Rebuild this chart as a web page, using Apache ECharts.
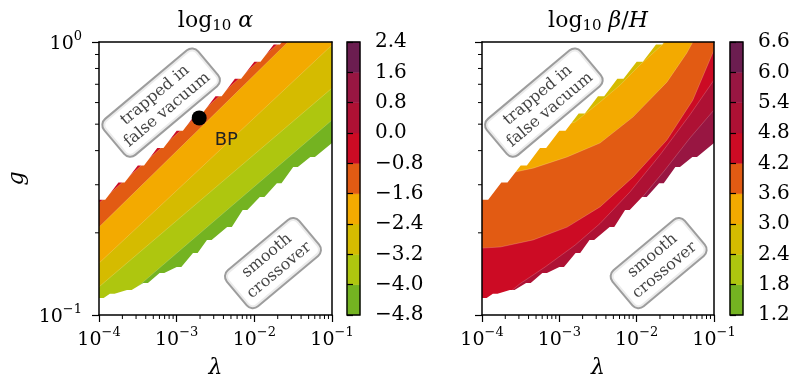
<!DOCTYPE html>
<html>
<head>
<meta charset="utf-8">
<script src="https://cdn.jsdelivr.net/npm/echarts@6/dist/echarts.min.js"></script>
<style>
  html, body { margin: 0; padding: 0; background: #ffffff; }
  #main { width: 795px; height: 381px; }
</style>
</head>
<body>
<div id="main"></div>
<script>
// Both panels are drawn in log10 space: x = log10(lambda), y = log10(g)
const lamExponents = [-4, -3, -2, -1];
const gExponents = [-1, 0];

// contour levels of the two colour bars
const levelsAlpha = [-4.8, -4.0, -3.2, -2.4, -1.6, -0.8, 0.0, 0.8, 1.6, 2.4];
const levelsBetaH = [1.2, 1.8, 2.4, 3.0, 3.6, 4.2, 4.8, 5.4, 6.0, 6.6];
const levelColors = ['#74b321', '#aec60f', '#d5bb00', '#f3aa00', '#e25b13',
                     '#cc0b24', '#ae1134', '#981642', '#6b1d50'];

// edges of the parameter region with a completed transition, [log10 lambda, log10 g]
const edgeUpper = [
  [-4.00, -0.578], [-3.92, -0.578], [-3.75, -0.515], [-3.67, -0.515],
  [-3.50, -0.452], [-3.42, -0.452], [-3.25, -0.388], [-3.17, -0.388],
  [-3.00, -0.325], [-2.92, -0.325], [-2.75, -0.262], [-2.67, -0.262],
  [-2.50, -0.199], [-2.42, -0.199], [-2.25, -0.135], [-2.17, -0.135],
  [-2.00, -0.072], [-1.92, -0.072], [-1.75, -0.009], [-1.67, -0.009],
  [-1.50, 0.054]
];
const edgeLower = [
  [-4.00, -0.938], [-3.94, -0.938], [-3.86, -0.922], [-3.80, -0.922],
  [-3.64, -0.908], [-3.58, -0.908], [-3.43, -0.883], [-3.37, -0.883],
  [-3.22, -0.846], [-3.16, -0.846], [-3.00, -0.824], [-2.94, -0.824],
  [-2.79, -0.773], [-2.73, -0.773], [-2.61, -0.725], [-2.55, -0.725],
  [-2.35, -0.678], [-2.29, -0.678], [-2.15, -0.615], [-2.09, -0.615],
  [-1.93, -0.568], [-1.87, -0.568], [-1.71, -0.517], [-1.65, -0.517],
  [-1.50, -0.458], [-1.44, -0.458], [-1.28, -0.421], [-1.22, -0.421],
  [-1.00, -0.370]
];

// contour lines of log10 alpha (value grows towards the upper left)
const alphaLevelM40 = [[-4.00, -1.018], [-3.28, -0.842], [-2.83, -0.732], [-1.00, -0.286]];
const alphaLevelM32 = [[-4.00, -0.897], [-2.50, -0.533], [-1.00, -0.169]];
const alphaLevelM24 = [[-4.00, -0.810], [-2.71, -0.467], [-1.00, -0.011]];
const alphaLevelM16 = [[-4.00, -0.678], [-2.71, -0.319], [-1.567, 0.000], [-1.40, 0.046]];
const alphaLevelM08 = [[-4.00, -0.590], [-2.50, -0.211], [-1.67, 0.000], [-1.50, 0.043]];

// contour lines of log10 beta/H (value grows towards the lower right)
const betaLevel30 = [[-3.183, -0.322], [-2.796, -0.293], [-2.474, -0.220], [-2.215, -0.158],
                     [-1.957, -0.084], [-1.700, -0.018], [-1.544, 0.022]];
const betaLevel36 = [[-4.000, -0.520], [-3.893, -0.524], [-3.570, -0.476], [-3.338, -0.462],
                     [-2.899, -0.421], [-2.474, -0.370], [-2.048, -0.275], [-1.609, -0.147],
                     [-1.351, -0.040], [-1.274, 0.000]];
const betaLevel42 = [[-4.000, -0.755], [-3.764, -0.751], [-3.338, -0.725], [-2.899, -0.678],
                     [-2.474, -0.604], [-2.048, -0.495], [-1.609, -0.359], [-1.274, -0.213],
                     [-1.000, -0.029]];
const betaLevel48 = [[-4.000, -1.000], [-3.700, -0.930], [-3.506, -0.885], [-3.183, -0.824],
                     [-2.796, -0.744], [-2.474, -0.665], [-2.086, -0.549], [-1.699, -0.414],
                     [-1.312, -0.267], [-1.000, -0.139]];
const betaLevel54 = [[-4.000, -1.200], [-2.474, -0.744], [-2.280, -0.681], [-1.957, -0.579],
                     [-1.635, -0.469], [-1.312, -0.352], [-1.000, -0.249]];

// benchmark point and region notes, [log10 lambda, log10 g]
const benchmarkPoint = [-2.71, -0.278];
const noteTrappedAt = [-3.20, -0.222];
const noteSmoothAlphaAt = [-1.76, -0.810];
const noteSmoothBetaAt = [-1.716, -0.810];

// ---------------------------------------------------------------
const X0 = lamExponents[0], X1 = lamExponents[lamExponents.length - 1];
const Y0 = gExponents[0], Y1 = gExponents[gExponents.length - 1];

const SERIF = 'DejaVu Serif';
const PLOT_TOP = 42, PLOT_H = 273;
const LEFT_PLOT = { left: 99, width: 233 };
const RIGHT_PLOT = { left: 482, width: 232 };
const LEFT_BAR = { left: 347, width: 13 };
const RIGHT_BAR = { left: 730, width: 13 };

// closed region on one side of a contour line, spanning the full lambda range
function region(line, far) {
  const first = line[0], last = line[line.length - 1];
  return [[X0, first[1]]].concat(line, [[X1, last[1]], [X1, far], [X0, far]]);
}

function contourRenderer(baseIndex, lines, firstIndex, far) {
  return function (params, api) {
    const px = p => api.coord(p);
    const kids = [];
    kids.push({ type: 'polygon', shape: { points: [[X0, Y0], [X1, Y0], [X1, Y1], [X0, Y1]].map(px) },
                style: { fill: levelColors[baseIndex] } });
    lines.forEach((line, i) => {
      kids.push({ type: 'polygon', shape: { points: region(line, far).map(px) },
                  style: { fill: levelColors[firstIndex + i] } });
    });
    lines.forEach(line => {
      kids.push({ type: 'polyline', shape: { points: line.map(px) },
                  style: { stroke: 'rgba(255,255,255,0.28)', lineWidth: 0.7, fill: null } });
    });
    kids.push({ type: 'polygon', shape: { points: region(edgeUpper, 1).map(px) }, style: { fill: '#ffffff' } });
    kids.push({ type: 'polygon', shape: { points: region(edgeLower, -2).map(px) }, style: { fill: '#ffffff' } });
    return { type: 'group', children: kids };
  };
}

// minor ticks of the logarithmic axes
const minorFactors = [2, 3, 4, 5, 6, 7, 8, 9];
function minorTickRenderer(params, api) {
  const kids = [];
  const tick = (x1, y1, x2, y2) => kids.push({ type: 'line', shape: { x1, y1, x2, y2 },
                                               style: { stroke: '#000', lineWidth: 1 } });
  for (let e = X0; e < X1; e++) {
    minorFactors.forEach(k => {
      const p = api.coord([e + Math.log10(k), Y0]);
      tick(p[0], p[1], p[0], p[1] + 4);
    });
  }
  for (let e = Y0; e < Y1; e++) {
    minorFactors.forEach(k => {
      const p = api.coord([X0, e + Math.log10(k)]);
      tick(p[0], p[1], p[0] - 4, p[1]);
    });
  }
  return { type: 'group', children: kids };
}

function colorbarRenderer(levels) {
  return function (params, api) {
    const kids = [];
    for (let i = 0; i < levels.length - 1; i++) {
      const a = api.coord([0, levels[i]]), b = api.coord([1, levels[i + 1]]);
      kids.push({ type: 'rect', shape: { x: a[0], y: b[1], width: b[0] - a[0], height: a[1] - b[1] },
                  style: { fill: levelColors[i], stroke: levelColors[i], lineWidth: 0.5 } });
    }
    const lo = api.coord([0, levels[0]]), hi = api.coord([1, levels[levels.length - 1]]);
    kids.push({ type: 'rect', shape: { x: lo[0], y: hi[1], width: hi[0] - lo[0], height: lo[1] - hi[1] },
                style: { fill: 'none', stroke: '#000', lineWidth: 1.4 } });
    return { type: 'group', children: kids };
  };
}

const minus = '\u2212';
const powLabel = v => {
  const e = Math.round(v);
  return '{b|10}{p|' + (e < 0 ? minus : '') + Math.abs(e) + '}';
};
const levelLabel = v => {
  const r = Math.round(v * 10) / 10;
  return (r < 0 ? minus : '') + Math.abs(r).toFixed(1);
};
const powRich = {
  b: { fontFamily: SERIF, fontSize: 19, lineHeight: 24, color: '#000', verticalAlign: 'bottom' },
  p: { fontFamily: SERIF, fontSize: 13, lineHeight: 14, color: '#000', verticalAlign: 'top' }
};
const axisLine = { show: true, onZero: false, lineStyle: { color: '#000', width: 1.5 } };

function mainX(grid) {
  return { type: 'value', gridIndex: grid, min: X0, max: X1, interval: 1, position: 'bottom', z: 10,
           axisLine, axisTick: { show: true, inside: false, length: 7, lineStyle: { color: '#000', width: 1.2 } },
           axisLabel: { show: true, formatter: powLabel, rich: powRich, margin: 11, showMinLabel: true, showMaxLabel: true },
           splitLine: { show: false } };
}
function mainY(grid, labels) {
  return { type: 'value', gridIndex: grid, min: Y0, max: Y1, interval: 1, position: 'left', z: 10,
           axisLine, axisTick: { show: true, inside: false, length: 7, lineStyle: { color: '#000', width: 1.2 } },
           axisLabel: { show: labels, formatter: powLabel, rich: powRich, margin: 17, showMinLabel: true, showMaxLabel: true },
           splitLine: { show: false } };
}
function spineX(grid) {
  return { type: 'value', gridIndex: grid, min: X0, max: X1, position: 'top', z: 10, axisLine,
           axisTick: { show: false }, axisLabel: { show: false }, splitLine: { show: false } };
}
function spineY(grid) {
  return { type: 'value', gridIndex: grid, min: Y0, max: Y1, position: 'right', z: 10, axisLine,
           axisTick: { show: false }, axisLabel: { show: false }, splitLine: { show: false } };
}
function barX(grid) {
  return { type: 'value', gridIndex: grid, min: 0, max: 1, show: false };
}
function barY(grid, levels) {
  const step = Math.round((levels[1] - levels[0]) * 10) / 10;
  return { type: 'value', gridIndex: grid, min: levels[0], max: levels[levels.length - 1], interval: step,
           position: 'right', z: 10, axisLine: { show: false },
           axisTick: { show: true, inside: false, length: 6, lineStyle: { color: '#000', width: 1.2 } },
           axisLabel: { show: true, formatter: levelLabel, margin: 15, fontFamily: SERIF, fontSize: 20, color: '#000',
                        showMinLabel: true, showMaxLabel: true },
           splitLine: { show: false } };
}

const noteLabel = {
  show: true, position: 'inside', rotate: 40,
  fontFamily: SERIF, fontSize: 16, lineHeight: 19, color: '#111111', align: 'center',
  backgroundColor: '#ffffff', borderColor: '#858585', borderWidth: 2, borderRadius: 7,
  padding: [4, 7, 3, 7]
};
function noteSeries(xi, items) {
  return { type: 'scatter', xAxisIndex: xi, yAxisIndex: xi, z: 20, silent: true, symbolSize: 1,
           itemStyle: { color: 'rgba(0,0,0,0)' }, label: noteLabel,
           data: items.map(it => ({ value: it[0], label: { formatter: it[1] } })) };
}

const titleRich = {
  a: { fontFamily: SERIF, fontSize: 22, lineHeight: 26, color: '#000' },
  s: { fontFamily: SERIF, fontSize: 15, lineHeight: 13, color: '#000', verticalAlign: 'bottom' },
  i: { fontFamily: SERIF, fontStyle: 'italic', fontSize: 22, lineHeight: 26, color: '#000' }
};
function panelTitle(cx, text) {
  return { text, left: cx, top: 8, textAlign: 'center', padding: 0, itemGap: 0,
           textStyle: { fontFamily: SERIF, fontSize: 22, fontWeight: 'normal', color: '#000', rich: titleRich } };
}
function axisName(cx, cy, text, rotation) {
  return { type: 'text', x: cx, y: cy, rotation: rotation || 0, z: 30,
           style: { text, fontFamily: SERIF, fontStyle: 'italic', fontSize: 22, fill: '#000',
                    align: 'center', textAlign: 'center', verticalAlign: 'middle', textVerticalAlign: 'middle' } };
}

const grids = [LEFT_PLOT, RIGHT_PLOT, LEFT_BAR, RIGHT_BAR].map(g => ({
  left: g.left, width: g.width, top: PLOT_TOP, height: PLOT_H, containLabel: false, show: false
}));

const chart = echarts.init(document.getElementById('main'), null, { renderer: 'canvas' });
chart.setOption({
  animation: false,
  backgroundColor: '#ffffff',
  title: [
    panelTitle(LEFT_PLOT.left + LEFT_PLOT.width / 2, '{a|log}{s|10}{a| }{i|\u03b1}'),
    panelTitle(RIGHT_PLOT.left + RIGHT_PLOT.width / 2, '{a|log}{s|10}{a| }{i|\u03b2}{a|/}{i|H}')
  ],
  grid: grids,
  xAxis: [mainX(0), mainX(1), barX(2), barX(3), spineX(0), spineX(1)],
  yAxis: [mainY(0, true), mainY(1, false), barY(2, levelsAlpha), barY(3, levelsBetaH), spineY(0), spineY(1)],
  series: [
    { type: 'custom', xAxisIndex: 0, yAxisIndex: 0, clip: true, silent: true, z: 2, data: [[-2.5, -0.5]],
      renderItem: contourRenderer(0, [alphaLevelM40, alphaLevelM32, alphaLevelM24, alphaLevelM16, alphaLevelM08], 1, 1) },
    { type: 'custom', xAxisIndex: 1, yAxisIndex: 1, clip: true, silent: true, z: 2, data: [[-2.5, -0.5]],
      renderItem: contourRenderer(2, [betaLevel30, betaLevel36, betaLevel42, betaLevel48, betaLevel54], 3, -2) },
    { type: 'custom', xAxisIndex: 0, yAxisIndex: 0, clip: false, silent: true, z: 11, data: [[-2.5, -0.5]],
      renderItem: minorTickRenderer },
    { type: 'custom', xAxisIndex: 1, yAxisIndex: 1, clip: false, silent: true, z: 11, data: [[-2.5, -0.5]],
      renderItem: minorTickRenderer },
    { type: 'custom', xAxisIndex: 2, yAxisIndex: 2, clip: false, silent: true, z: 2, data: [[0.5, 0]],
      renderItem: colorbarRenderer(levelsAlpha) },
    { type: 'custom', xAxisIndex: 3, yAxisIndex: 3, clip: false, silent: true, z: 2, data: [[0.5, 3]],
      renderItem: colorbarRenderer(levelsBetaH) },
    noteSeries(0, [[noteTrappedAt, 'trapped in\nfalse vacuum'], [noteSmoothAlphaAt, 'smooth\ncrossover']]),
    noteSeries(1, [[noteTrappedAt, 'trapped in\nfalse vacuum'], [noteSmoothBetaAt, 'smooth\ncrossover']]),
    { type: 'scatter', xAxisIndex: 0, yAxisIndex: 0, z: 21, silent: true, symbolSize: 15,
      itemStyle: { color: '#000', opacity: 1 },
      label: { show: true, formatter: 'BP', position: [23, 21], fontFamily: 'DejaVu Sans', fontSize: 18, color: '#222' },
      data: [benchmarkPoint] }
  ],
  graphic: [
    axisName(LEFT_PLOT.left + LEFT_PLOT.width / 2, 368, '\u03bb'),
    axisName(RIGHT_PLOT.left + RIGHT_PLOT.width / 2, 368, '\u03bb'),
    axisName(17, PLOT_TOP + PLOT_H / 2, 'g', Math.PI / 2)
  ]
});
</script>
</body>
</html>
